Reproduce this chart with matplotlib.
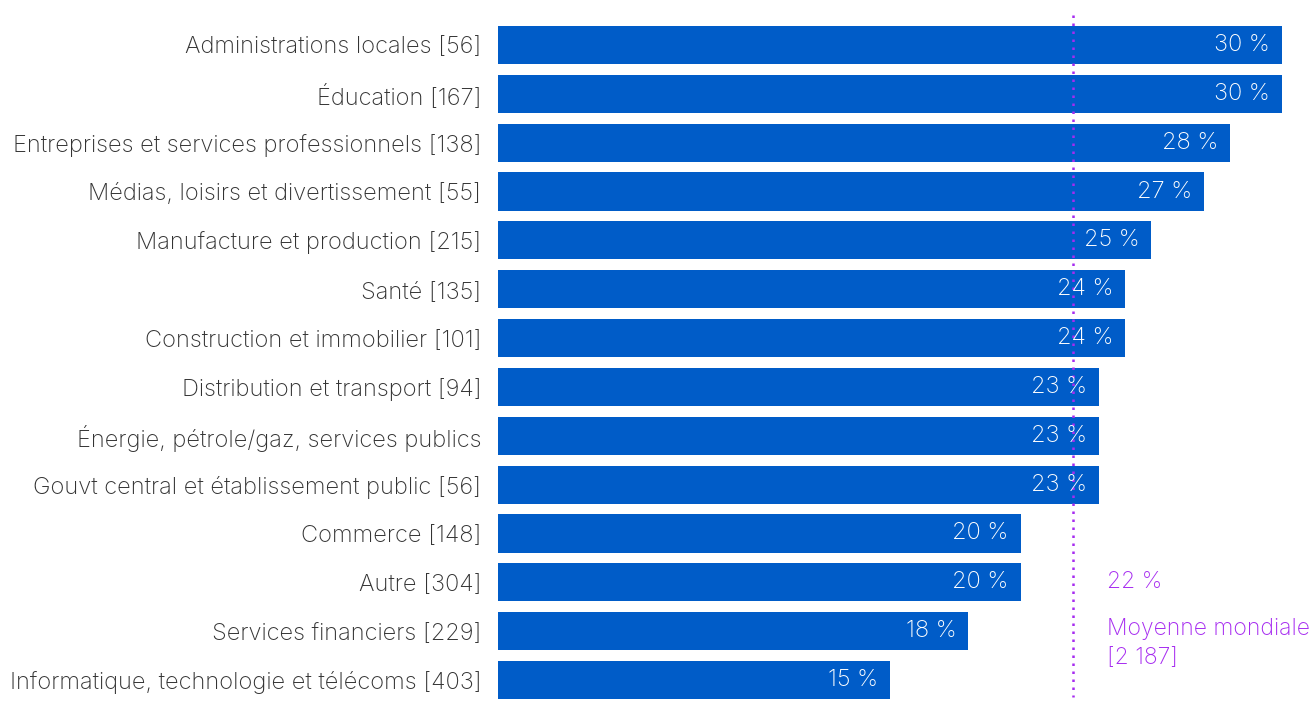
import matplotlib.pyplot as plt

# secteurs et part (%) de chaque secteur
secteurs = ['Administrations locales [56]', 'Éducation [167]',
            'Entreprises et services professionnels [138]',
            'Médias, loisirs et divertissement [55]',
            'Manufacture et production [215]', 'Santé [135]',
            'Construction et immobilier [101]', 'Distribution et transport [94]',
            'Énergie, pétrole/gaz, services publics',
            'Gouvt central et établissement public [56]', 'Commerce [148]',
            'Autre [304]', 'Services financiers [229]',
            'Informatique, technologie et télécoms [403]']
valeurs = [30, 30, 28, 27, 25, 24, 24, 23, 23, 23, 20, 20, 18, 15]
moyenne = 22
moyenne_texte = 'Moyenne mondiale\n[2 187]'

bleu = '#005CC8'
violet = '#A62BF0'
fs = 17

plt.rcParams['font.family'] = ['Inter', 'DejaVu Sans']
plt.rcParams['font.weight'] = 'light'

fig = plt.figure(figsize=(13.12, 7.03), dpi=100)
ax = fig.add_axes([0.3796, 0, 0.5976, 1])

pos = list(range(len(secteurs)))
ax.barh(pos, valeurs, height=0.78, color=bleu)
ax.set_xlim(0, 30)
ax.set_ylim(13.47, -0.921)

for p, v in zip(pos, valeurs):
    ax.annotate(f'{v} %', (v, p), xytext=(-12, 0), textcoords='offset pixels',
                ha='right', va='center', color='white', fontsize=fs)

# ligne de la moyenne mondiale
ax.vlines(moyenne, -0.614, 13.35, colors=violet, linewidth=1.8,
          linestyles=(0, (1.0, 2.2)))
ax.annotate(f'{moyenne} %', (moyenne, 11), xytext=(34, 0),
            textcoords='offset pixels', ha='left', va='center',
            color=violet, fontsize=16.5, annotation_clip=False)
ax.annotate(moyenne_texte, (moyenne, 11.72), xytext=(34, 0),
            textcoords='offset pixels', ha='left', va='top',
            color=violet, fontsize=16.5, linespacing=1.45,
            annotation_clip=False)

ax.set_yticks(pos)
ax.set_yticklabels(secteurs, fontsize=fs, color='#333333')
ax.tick_params(axis='y', length=0, pad=12)
ax.set_xticks([])
for s in ax.spines.values():
    s.set_visible(False)

fig.savefig('out.png', dpi=100)
